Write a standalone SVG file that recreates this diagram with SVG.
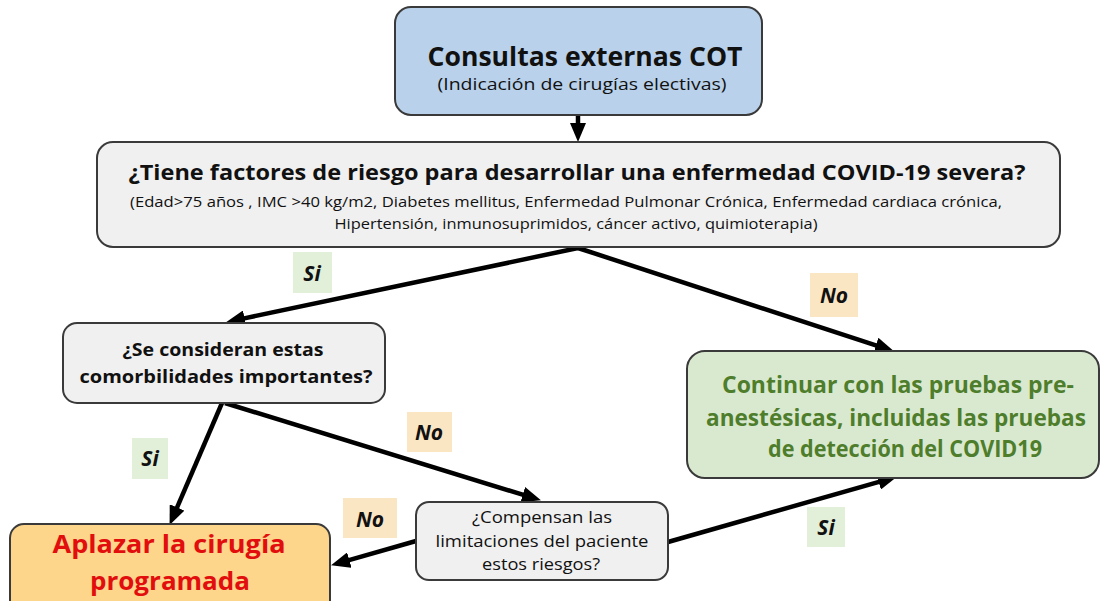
<svg xmlns="http://www.w3.org/2000/svg" width="1101" height="601" viewBox="0 0 1101 601">
<style>
.box{stroke:#3a3a3a;stroke-width:2}
.t{font-family:"Open Sans","Noto Sans",sans-serif;text-anchor:middle;fill:#111}
.b{font-weight:bold}
.g{fill:#4e7d2c}
.r{fill:#e20e0e}
.lab{font-family:"Open Sans","Noto Sans",sans-serif;font-weight:bold;font-style:italic;font-size:21px;text-anchor:middle;fill:#111}
.con{stroke:#000;stroke-width:4.5;fill:none}
</style>
<defs>
<marker id="ah" markerUnits="userSpaceOnUse" markerWidth="20" markerHeight="16" refX="4" refY="8" orient="auto">
<path d="M0,0 L19,8 L0,16 z" fill="#000"/>
</marker>
</defs>
<rect width="1101" height="601" fill="#fff"/>
<g id="connectors">
<line class="con" x1="578" y1="115" x2="578" y2="127" marker-end="url(#ah)"/>
<line class="con" x1="578" y1="248" x2="240.7" y2="319.1" marker-end="url(#ah)"/>
<line class="con" x1="578" y1="248" x2="879.7" y2="346.6" marker-end="url(#ah)"/>
<line class="con" x1="222" y1="403" x2="175.5" y2="511.1" marker-end="url(#ah)"/>
<line class="con" x1="225" y1="403" x2="526.6" y2="495.9" marker-end="url(#ah)"/>
<line class="con" x1="416" y1="541" x2="345.5" y2="561.2" marker-end="url(#ah)"/>
<line class="con" x1="668" y1="542" x2="882.5" y2="480.8" marker-end="url(#ah)"/>
</g>
<g id="n_consultas">
<rect class="box" x="395" y="7" width="367" height="108" rx="16" fill="#b9d1ea"/>
<text class="t b" x="585" y="66" font-size="27" textLength="315" lengthAdjust="spacingAndGlyphs">Consultas externas COT</text>
<text class="t" x="582" y="90" font-size="17" textLength="289" lengthAdjust="spacingAndGlyphs">(Indicación de cirugías electivas)</text>
</g>
<g id="n_factores">
<rect class="box" x="97" y="142" width="963" height="105" rx="16" fill="#f0f0f0"/>
<text class="t b" x="577" y="180" font-size="21" textLength="897" lengthAdjust="spacingAndGlyphs">¿Tiene factores de riesgo para desarrollar una enfermedad COVID-19 severa?</text>
<text class="t" x="566" y="207" font-size="14" textLength="872" lengthAdjust="spacingAndGlyphs">(Edad&gt;75 años , IMC &gt;40 kg/m2, Diabetes mellitus, Enfermedad Pulmonar Crónica, Enfermedad cardiaca crónica,</text>
<text class="t" x="576" y="229" font-size="14" textLength="483" lengthAdjust="spacingAndGlyphs">Hipertensión, inmunosuprimidos, cáncer activo, quimioterapia)</text>
</g>
<g id="lab_si1">
<rect x="293" y="252" width="39" height="41" fill="#e2efd9"/>
<text class="lab" x="312" y="281">Si</text>
</g>
<g id="lab_no1">
<rect x="810" y="273" width="48" height="44" fill="#fbe6c4"/>
<text class="lab" x="834" y="303">No</text>
</g>
<g id="n_comorb">
<rect class="box" x="63" y="323" width="322" height="80" rx="14" fill="#f0f0f0"/>
<text class="t b" x="223" y="356" font-size="18" textLength="201" lengthAdjust="spacingAndGlyphs">¿Se consideran estas</text>
<text class="t b" x="226" y="383" font-size="18" textLength="293" lengthAdjust="spacingAndGlyphs">comorbilidades importantes?</text>
</g>
<g id="n_continuar">
<rect class="box" x="687" y="351" width="412" height="127" rx="18" fill="#d9e9cf"/>
<text class="t b g" x="898" y="393" font-size="23" textLength="352" lengthAdjust="spacingAndGlyphs">Continuar con las pruebas pre-</text>
<text class="t b g" x="896" y="426" font-size="23" textLength="380" lengthAdjust="spacingAndGlyphs">anestésicas, incluidas las pruebas</text>
<text class="t b g" x="905" y="457" font-size="23" textLength="274" lengthAdjust="spacingAndGlyphs">de detección del COVID19</text>
</g>
<g id="lab_no2">
<rect x="407" y="412" width="45" height="40" fill="#fbe6c4"/>
<text class="lab" x="429" y="440">No</text>
</g>
<g id="lab_si2">
<rect x="132" y="438" width="36" height="41" fill="#e2efd9"/>
<text class="lab" x="150" y="466">Si</text>
</g>
<g id="lab_no3">
<rect x="343" y="498" width="54" height="40" fill="#fbe6c4"/>
<text class="lab" x="370" y="527">No</text>
</g>
<g id="lab_si3">
<rect x="807" y="507" width="38" height="40" fill="#e2efd9"/>
<text class="lab" x="826" y="535">Si</text>
</g>
<g id="n_compensan">
<rect class="box" x="416" y="502" width="252" height="78" rx="13" fill="#f0f0f0"/>
<text class="t" x="542" y="523" font-size="17" textLength="140" lengthAdjust="spacingAndGlyphs">¿Compensan las</text>
<text class="t" x="542" y="547" font-size="17" textLength="213" lengthAdjust="spacingAndGlyphs">limitaciones del paciente</text>
<text class="t" x="541" y="570" font-size="17" textLength="118" lengthAdjust="spacingAndGlyphs">estos riesgos?</text>
</g>
<g id="n_aplazar">
<rect class="box" x="10" y="524" width="320" height="90" rx="14" fill="#fdd68c"/>
<text class="t b r" x="169" y="553" font-size="25" textLength="233" lengthAdjust="spacingAndGlyphs">Aplazar la cirugía</text>
<text class="t b r" x="170" y="590" font-size="25" textLength="160" lengthAdjust="spacingAndGlyphs">programada</text>
</g>
</svg>
